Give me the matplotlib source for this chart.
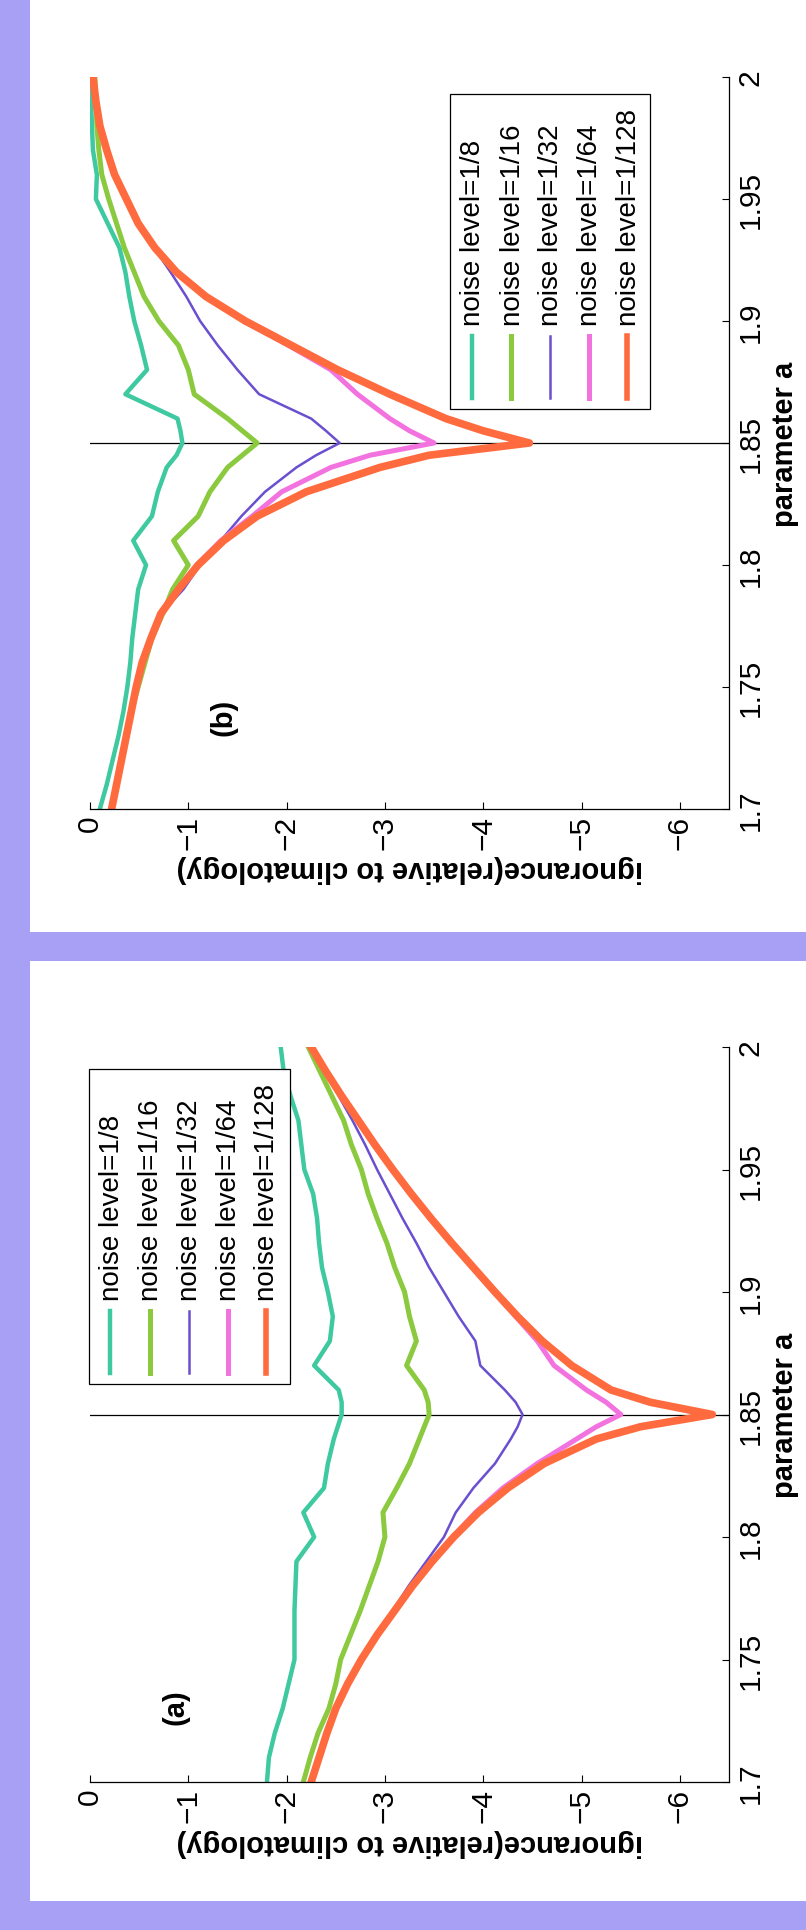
import matplotlib
matplotlib.use("Agg")
import matplotlib.pyplot as plt
from matplotlib.patches import Rectangle
from matplotlib.lines import Line2D

plt.rcParams['font.family'] = ['Liberation Sans', 'DejaVu Sans']

W, H, DPI = 806, 1931, 100

# ---------------- data ----------------
param_a = [1.70, 1.71, 1.72, 1.73, 1.74, 1.75, 1.76, 1.77, 1.78, 1.79, 1.80, 1.81,
           1.82, 1.83, 1.84, 1.845, 1.85, 1.855, 1.86, 1.87, 1.88, 1.89, 1.90,
           1.91, 1.92, 1.93, 1.94, 1.95, 1.96, 1.97, 1.98, 1.99, 2.00]

series_labels = ['noise level=1/8', 'noise level=1/16', 'noise level=1/32',
                 'noise level=1/64', 'noise level=1/128']

# panel (a)
a_n8 = [-1.80, -1.82, -1.88, -1.96, -2.02, -2.08, -2.08, -2.08, -2.09, -2.10, -2.28, -2.17,
        -2.38, -2.42, -2.48, -2.52, -2.56, -2.56, -2.53, -2.28, -2.44, -2.47, -2.42,
        -2.36, -2.33, -2.31, -2.27, -2.18, -2.15, -2.12, -2.04, -1.97, -1.94]
a_n16 = [-2.17, -2.24, -2.32, -2.43, -2.50, -2.55, -2.65, -2.75, -2.84, -2.93, -3.00, -2.98,
         -3.12, -3.25, -3.35, -3.40, -3.45, -3.44, -3.40, -3.22, -3.32, -3.25, -3.20,
         -3.10, -3.02, -2.92, -2.83, -2.76, -2.66, -2.58, -2.46, -2.34, -2.22]
a_n32 = [-2.25, -2.33, -2.41, -2.50, -2.62, -2.76, -2.92, -3.08, -3.24, -3.42, -3.60, -3.72,
         -3.90, -4.12, -4.28, -4.35, -4.40, -4.33, -4.22, -3.97, -3.92, -3.75, -3.60,
         -3.45, -3.32, -3.18, -3.05, -2.92, -2.80, -2.67, -2.53, -2.39, -2.25]
a_n64 = [-2.25, -2.33, -2.41, -2.50, -2.62, -2.76, -2.92, -3.10, -3.28, -3.48, -3.69, -3.92,
         -4.20, -4.55, -4.95, -5.15, -5.40, -5.25, -5.05, -4.72, -4.55, -4.33, -4.11,
         -3.89, -3.67, -3.46, -3.26, -3.07, -2.89, -2.72, -2.55, -2.39, -2.24]
a_n128 = [-2.25, -2.33, -2.41, -2.50, -2.62, -2.76, -2.92, -3.10, -3.28, -3.48, -3.70, -3.95,
          -4.25, -4.62, -5.15, -5.60, -6.33, -5.70, -5.30, -4.90, -4.60, -4.35, -4.12,
          -3.90, -3.68, -3.47, -3.27, -3.08, -2.90, -2.73, -2.56, -2.40, -2.25]

# panel (b)
b_n8 = [-0.10, -0.17, -0.23, -0.29, -0.34, -0.38, -0.41, -0.43, -0.46, -0.49, -0.57, -0.44,
        -0.63, -0.69, -0.78, -0.88, -0.94, -0.92, -0.89, -0.36, -0.58, -0.52, -0.45,
        -0.40, -0.36, -0.30, -0.18, -0.06, -0.07, -0.03, -0.02, -0.01, 0.00]
b_n16 = [-0.21, -0.27, -0.32, -0.37, -0.42, -0.49, -0.56, -0.63, -0.74, -0.84, -1.00, -0.85,
         -1.10, -1.22, -1.40, -1.55, -1.70, -1.55, -1.40, -1.06, -1.00, -0.90, -0.70,
         -0.55, -0.45, -0.35, -0.27, -0.19, -0.12, -0.09, -0.07, -0.06, -0.05]
b_n32 = [-0.22, -0.27, -0.32, -0.37, -0.42, -0.47, -0.53, -0.62, -0.72, -0.95, -1.12, -1.33,
         -1.54, -1.78, -2.10, -2.30, -2.54, -2.40, -2.25, -1.72, -1.50, -1.30, -1.12,
         -0.98, -0.82, -0.65, -0.49, -0.37, -0.25, -0.17, -0.10, -0.06, -0.03]
b_n64 = [-0.22, -0.27, -0.32, -0.37, -0.42, -0.47, -0.53, -0.62, -0.72, -0.90, -1.09, -1.33,
         -1.65, -1.95, -2.45, -2.85, -3.50, -3.25, -3.05, -2.72, -2.45, -2.02, -1.57,
         -1.18, -0.88, -0.66, -0.49, -0.37, -0.25, -0.17, -0.10, -0.06, -0.03]
b_n128 = [-0.22, -0.27, -0.32, -0.37, -0.42, -0.47, -0.53, -0.62, -0.72, -0.90, -1.10, -1.36,
          -1.70, -2.20, -2.95, -3.45, -4.47, -4.00, -3.62, -3.05, -2.52, -2.05, -1.58,
          -1.18, -0.88, -0.66, -0.49, -0.37, -0.25, -0.17, -0.10, -0.06, -0.03]

ign_ticks = [0, -1, -2, -3, -4, -5, -6]
ign_ticklabels = ['0', '\u22121', '\u22122', '\u22123', '\u22124', '\u22125', '\u22126']
a_ticks = [1.7, 1.75, 1.8, 1.85, 1.9, 1.95, 2.0]
a_ticklabels = ['1.7', '1.75', '1.8', '1.85', '1.9', '1.95', '2']

# ---------------- style ----------------
colors = ['#3ec9a0', '#8bc93f', '#6a4fcf', '#f273df', '#ff6b3f']
lwidths = [3.2, 3.6, 1.8, 3.6, 5.5]
LAV = '#a8a0f5'
FS = 21.5

fig = plt.figure(figsize=(W / DPI, H / DPI), dpi=DPI, facecolor=LAV)


def px_rect(x0, y0, x1, y1, **kw):
    return Rectangle((x0 / W, 1 - y1 / H), (x1 - x0) / W, (y1 - y0) / H,
                     transform=fig.transFigure, **kw)


# white panels
fig.patches.append(px_rect(30, 0, W, 933, facecolor='white', edgecolor='none', zorder=-5))
fig.patches.append(px_rect(30, 962, W, 1902, facecolor='white', edgecolor='none', zorder=-5))


def make_axes(x0, y0, x1, y1):
    ax = fig.add_axes([x0 / W, 1 - y1 / H, (x1 - x0) / W, (y1 - y0) / H])
    ax.set_facecolor('none')
    return ax


def setup(ax, tag, tag_pos, xlab_off):
    ax.set_xlim(0, -6.5)
    ax.set_ylim(1.7, 2.0)
    ax.spines['top'].set_visible(False)
    ax.spines['left'].set_visible(False)
    ax.spines['bottom'].set_linewidth(0.9)
    ax.spines['right'].set_linewidth(0.9)
    ax.yaxis.tick_right()
    ax.yaxis.set_label_position('right')
    ax.set_xticks(ign_ticks)
    ax.set_xticklabels(ign_ticklabels, rotation=90, ha='center', va='top', fontsize=FS)
    ax.set_yticks(a_ticks)
    ax.set_yticklabels(a_ticklabels, rotation=90, ha='left', va='center', fontsize=FS)
    ax.tick_params(axis='both', direction='in', length=5, width=0.8)
    ax.tick_params(axis='x', pad=4)
    ax.tick_params(axis='y', pad=5.5)
    ax.set_xlabel('ignorance(relative to climatology)', rotation=180,
                  fontweight='bold', fontsize=21)
    ax.xaxis.set_label_coords(0.5, xlab_off)
    ax.set_ylabel('parameter a', fontweight='bold', fontsize=21)
    ax.yaxis.set_label_coords(1.066, 0.5)
    ax.axhline(1.85, color='black', lw=0.9, zorder=1)
    ax.text(tag_pos[0], tag_pos[1], tag, rotation=90, fontweight='bold', fontsize=21,
            ha='center', va='center')


def draw_legend(x0, y0, x1, y1):
    fig.patches.append(px_rect(x0, y0, x1, y1, facecolor='white', edgecolor='black',
                               lw=0.9, zorder=5))
    dxs = [21.5, 61.0, 100.0, 138.5, 177.0]
    for dx, c, lw, lab in zip(dxs, colors, lwidths, series_labels):
        x = (x0 + dx) / W
        fig.lines.append(Line2D([x, x], [1 - (y1 - 11) / H, 1 - (y1 - 73) / H],
                                transform=fig.transFigure, color=c,
                                lw=min(lw, 4.0), zorder=6))
        fig.text(x + 1.5 / W, 1 - (y1 - 84) / H, lab, rotation=90, ha='center',
                 va='bottom', fontsize=20, zorder=6)


# panel (b) (upper in the picture)
axb = make_axes(90, 78, 729, 810)
for ys, c, lw in zip([b_n8, b_n16, b_n32, b_n64, b_n128], colors, lwidths):
    axb.plot(ys, param_a, color=c, lw=lw, solid_joinstyle='round', zorder=2)
setup(axb, '(b)', (-1.36, 1.738), -0.062)
draw_legend(450, 95, 650, 410)

# panel (a) (lower in the picture)
axa = make_axes(90, 1048, 729, 1783)
for ys, c, lw in zip([a_n8, a_n16, a_n32, a_n64, a_n128], colors, lwidths):
    axa.plot(ys, param_a, color=c, lw=lw, solid_joinstyle='round', zorder=2)
setup(axa, '(a)', (-0.865, 1.731), -0.062)
draw_legend(89, 1070, 290, 1385)

fig.savefig('out.png', dpi=DPI, facecolor=LAV)
